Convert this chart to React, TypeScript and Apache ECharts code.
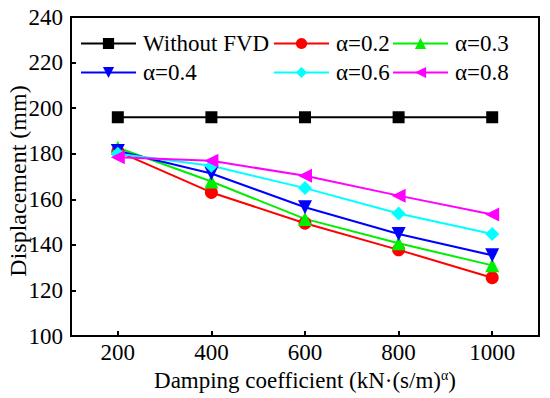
import React, { useEffect, useRef } from "react";
import * as echarts from "echarts";

const xValues = [200, 400, 600, 800, 1000];
const seriesNames = ["Without FVD", "α=0.2", "α=0.3", "α=0.4", "α=0.6", "α=0.8"];
const withoutFVD = [196, 196, 196, 196, 196];
const alpha02 = [181, 163.0, 149.5, 137.8, 125.6];
const alpha03 = [182.6, 167.8, 151.4, 140.7, 131.0];
const alpha04 = [181.2, 171.3, 156.5, 144.8, 135.4];
const alpha06 = [180, 174.7, 164.9, 153.8, 144.8];
const alpha08 = [178.4, 176.9, 170.3, 161.6, 153.3];
const yTicks = [100, 120, 140, 160, 180, 200, 220, 240];
const yTitle = "Displacement (mm)";

const colors = ["#000000", "#ff0000", "#00ee00", "#0000ff", "#00ffff", "#ff00ff"];
const symbols = ["rect", "circle", "triangle", "triangle", "diamond", "triangle"];
const rotates = [0, 0, 0, 180, 0, 90];
const sizes = [12, 13, 14, 14, 14, 14];
const allData = [withoutFVD, alpha02, alpha03, alpha04, alpha06, alpha08];

const FONT = "Liberation Serif";

export default function App() {
  const ref = useRef<HTMLDivElement>(null);
  useEffect(() => {
    if (!ref.current) return;
    const chart = echarts.init(ref.current, null, { renderer: "svg" });
    const legendBase = {
      orient: "vertical",
      top: 32,
      padding: 0,
      itemWidth: 55,
      itemHeight: 14,
      itemGap: 6,
      textStyle: { fontFamily: FONT, fontSize: 23, color: "#000", lineHeight: 23, padding: [0, 0, 0, 2] },
    };
    chart.setOption({
      animation: false,
      backgroundColor: "#fff",
      grid: {
        left: 71,
        right: 11,
        top: 17,
        bottom: 62,
        containLabel: false,
        outerBoundsMode: "none",
        show: true,
        borderColor: "#000",
        borderWidth: 2,
      },
      graphic: [
        {
          type: "text",
          x: 18,
          y: 181,
          rotation: Math.PI / 2,
          style: {
            text: yTitle,
            fontFamily: FONT,
            fontSize: 24,
            fill: "#000",
            align: "center",
            verticalAlign: "middle",
          },
        },
      ],
      legend: [
        { ...legendBase, left: 80, data: [seriesNames[0], seriesNames[3]] },
        { ...legendBase, left: 273, data: [seriesNames[1], seriesNames[4]] },
        { ...legendBase, left: 392, data: [seriesNames[2], seriesNames[5]] },
      ],
      xAxis: {
        type: "value",
        min: 100,
        max: 1100,
        name: "Damping coefficient (kN·(s/m){sup|α})",
        nameLocation: "middle",
        nameGap: 25,
        nameTextStyle: {
          fontFamily: FONT,
          fontSize: 23,
          color: "#000",
          rich: {
            sup: { fontFamily: FONT, fontSize: 14, color: "#000", verticalAlign: "top", lineHeight: 12 },
          },
        },
        axisLine: { lineStyle: { color: "#000", width: 2 } },
        axisTick: { inside: true, length: 5, lineStyle: { color: "#000", width: 2 }, customValues: xValues },
        axisLabel: {
          fontFamily: FONT,
          fontSize: 23,
          color: "#000",
          margin: 5,
          customValues: xValues,
          formatter: (v: number) => String(v),
        },
        splitLine: { show: false },
      },
      yAxis: {
        type: "value",
        min: yTicks[0],
        max: yTicks[yTicks.length - 1],
        interval: 20,
        axisLine: { show: true, lineStyle: { color: "#000", width: 2 } },
        axisTick: { show: true, inside: true, length: 5, lineStyle: { color: "#000", width: 2 } },
        axisLabel: { fontFamily: FONT, fontSize: 23, color: "#000", margin: 8 },
        splitLine: { show: false },
      },
      series: seriesNames.map((name, i) => ({
        name,
        type: "line",
        data: xValues.map((x, j) => [x, allData[i][j]]),
        symbol: symbols[i],
        symbolRotate: rotates[i],
        symbolSize: sizes[i],
        showSymbol: true,
        color: colors[i],
        lineStyle: { color: colors[i], width: 2 },
        itemStyle: { color: colors[i] },
      })),
    });
    return () => chart.dispose();
  }, []);
  return <div ref={ref} style={{ width: 550, height: 398, position: "absolute", left: 0, top: 0 }} />;
}
